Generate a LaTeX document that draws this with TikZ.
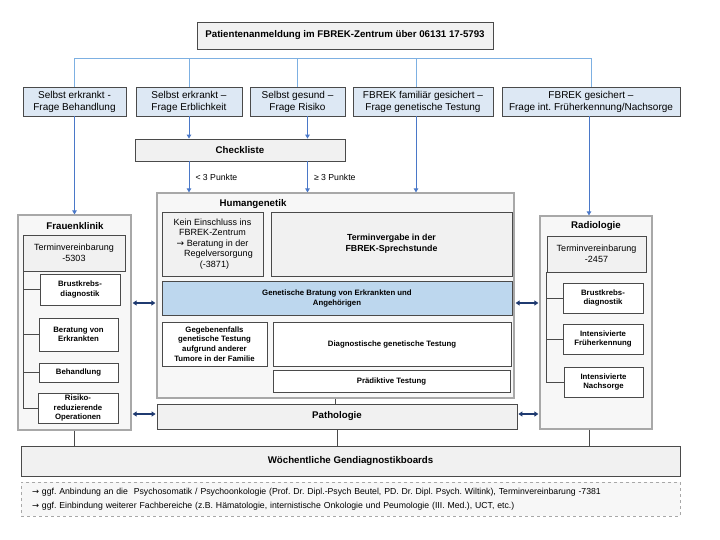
\documentclass[tikz,border=0pt]{standalone}
\usepackage{fontspec}
\setmainfont{Liberation Sans}
\newfontfamily\arrowfont{DejaVu Sans}
\newcommand\toarrow{{\arrowfont\fontsize{8.4}{10}\selectfont →}}
\frenchspacing
\usetikzlibrary{arrows.meta}

\definecolor{rowblue}{HTML}{DDE8F4}
\definecolor{busblue}{HTML}{7DB0E2}
\definecolor{flowblue}{HTML}{4A78C8}
\definecolor{navy}{HTML}{1F3A70}
\definecolor{gbblue}{HTML}{BDD7EE}
\definecolor{panel}{HTML}{F7F7F7}
\definecolor{soft}{HTML}{F1F1F1}
\definecolor{edge}{HTML}{4A4A4A}
\definecolor{frame}{HTML}{A8A8A8}

\tikzset{
  box/.style={draw=edge, line width=.8pt, inner sep=1pt, align=center},
  ask/.style={box, fill=rowblue, font=\fontsize{10}{12}\selectfont},
  grey/.style={box, fill=soft},
  sub/.style={box, fill=white, font=\fontsize{7.8}{9.6}\selectfont\bfseries},
  unit/.style={draw=frame, line width=1.2pt, fill=panel},
  head/.style={font=\fontsize{9.7}{11}\selectfont\bfseries},
  term/.style={grey, font=\fontsize{9}{10.8}\selectfont},
  bus/.style={draw=busblue, line width=1pt},
  flow/.style={draw=flowblue, line width=1pt, -{Triangle[length=4pt,width=4.5pt]}},
  dbl/.style={draw=navy, line width=1.2pt, {Triangle[length=4pt,width=5pt]}-{Triangle[length=4pt,width=5pt]}, shorten <=1pt, shorten >=1pt},
  tick/.style={draw=edge, line width=.6pt},
  lbl/.style={font=\fontsize{8.7}{10}\selectfont, inner xsep=6pt, inner ysep=2pt}
}

\begin{document}
\begin{tikzpicture}[x=1pt,y=-1pt]
    \useasboundingbox (0,0) rectangle (720,540);

    %Anmeldung and questions:
    \node[grey, head, minimum width=296pt, minimum height=27pt] (top) at (345,35.5) {Patientenanmeldung im FBREK-Zentrum über 06131 17-5793};
    \node[ask, minimum width=103pt, minimum height=29pt] (b1) at (74.5,101.5) {Selbst erkrankt -\\Frage Behandlung};
    \node[ask, minimum width=106pt, minimum height=29pt] (b2) at (189,101.5) {Selbst erkrankt –\\Frage Erblichkeit};
    \node[ask, minimum width=95pt, minimum height=29pt] (b3) at (297.5,101.5) {Selbst gesund –\\Frage Risiko};
    \node[ask, minimum width=140pt, minimum height=29pt] (b4) at (423,101.5) {FBREK familiär gesichert –\\Frage genetische Testung};
    \node[ask, minimum width=178pt, minimum height=29pt] (b5) at (591,101.5) {FBREK gesichert –\\Frage int. Früherkennung/Nachsorge};
    \node[grey, head, minimum width=210pt, minimum height=22pt] (check) at (240,150) {Checkliste};

    %Frauenklinik:
    \node[unit, minimum width=113pt, minimum height=215pt] (fk) at (74.5,322.5) {};
    \node[head] (fktitle) at (75,226) {Frauenklinik};
    \node[term, minimum width=102pt, minimum height=36pt] (fkterm) at (74,253) {Terminvereinbarung\\-5303};
    \node[sub, minimum width=80pt, minimum height=31pt] (fkbrust) at (80,289.5) {Brustkrebs-\\diagnostik};
    \node[sub, minimum width=79pt, minimum height=33pt] (fkber) at (78.5,334.5) {Beratung von\\Erkrankten};
    \node[sub, minimum width=79pt, minimum height=19pt] (fkbeh) at (78.5,372.5) {Behandlung};
    \node[sub, minimum width=80pt, minimum height=30pt] (fkops) at (78,408) {Risiko-\\reduzierende\\Operationen};
    \draw[tick] ([xshift=1pt]fkterm.south west) |- (fkops.west);
    \foreach \n in {fkbrust,fkber,fkbeh}
        \draw[tick] (\n.west) -- ([xshift=1pt]\n.west -| fkterm.west);

    %Humangenetik:
    \node[unit, minimum width=357pt, minimum height=205pt] (hg) at (335.5,295.5) {};
    \node[head] (hgtitle) at (253,204) {Humangenetik};
    \node[grey, font=\fontsize{9}{10.5}\selectfont, minimum width=101pt, minimum height=64pt] (kein) at (212.5,244) {Kein Einschluss ins\\FBREK-Zentrum\\{\arrowfont\fontsize{9}{10}\selectfont →} Beratung in der\\\hspace*{12pt}Regelversorgung\\\hspace*{4pt}(-3871)};
    \node[grey, font=\fontsize{8.8}{11}\selectfont\bfseries, minimum width=241pt, minimum height=64pt] (tv) at (391.5,244) {Terminvergabe in der\\FBREK-Sprechstunde};
    \node[box, fill=gbblue, font=\fontsize{7.8}{10}\selectfont\bfseries, minimum width=350pt, minimum height=34pt] (gb) at (337,298) {Genetische Bratung von Erkrankten und\\Angehörigen};
    \node[sub, minimum width=105pt, minimum height=44pt] (ggf) at (214.5,344) {Gegebenenfalls\\genetische Testung\\aufgrund anderer\\Tumore in der Familie};
    \node[sub, minimum width=238pt, minimum height=44pt] (diag) at (392,344) {Diagnostische genetische Testung};
    \node[sub, minimum width=237pt, minimum height=22pt] (praed) at (391.5,381) {Prädiktive Testung};
    \node[grey, head, minimum width=360pt, minimum height=25pt] (path) at (337,416.5) {Pathologie};

    %Radiologie:
    \node[unit, minimum width=112pt, minimum height=213pt] (rad) at (596,322.5) {};
    \node[head] (radtitle) at (596,226) {Radiologie};
    \node[term, minimum width=99pt, minimum height=36pt] (radterm) at (596.5,254) {Terminvereinbarung\\-2457};
    \node[sub, minimum width=80pt, minimum height=30pt] (radbrust) at (603,298) {Brustkrebs-\\diagnostik};
    \node[sub, minimum width=80pt, minimum height=30pt] (radfrueh) at (603,339) {Intensivierte\\Früherkennung};
    \node[sub, minimum width=79pt, minimum height=30pt] (radnach) at (603.5,382) {Intensivierte\\Nachsorge};
    \draw[tick] (radterm.south west) |- (radnach.west);
    \foreach \n in {radbrust,radfrueh}
        \draw[tick] (\n.west) -- (\n.west -| radterm.west);

    %Boards and notes:
    \node[grey, head, minimum width=659pt, minimum height=30pt] (wb) at (350.5,461) {Wöchentliche Gendiagnostikboards};
    \node[draw=frame, dashed, line width=.8pt, fill=panel, align=left, text width=637pt, inner xsep=11pt, minimum height=34pt, font=\fontsize{8.7}{13.5}\selectfont] (notes) at (350.5,499) {\toarrow\ ggf. Anbindung an die \ Psychosomatik / Psychoonkologie (Prof. Dr. Dipl.-Psych Beutel, PD. Dr. Dipl. Psych. Wiltink), Terminvereinbarung -7381\\\toarrow\ ggf. Einbindung weiterer Fachbereiche (z.B. Hämatologie, internistische Onkologie und Peumologie (III. Med.), UCT, etc.)};

    %draw bus:
    \coordinate (busline) at (0,59);
    \draw[bus] (b1.north) -- (b1.north |- busline) -- (b5.north |- busline) -- (b5.north);
    \draw[bus] (b2.north) -- (b2.north |- busline);
    \draw[bus] (b3.north) -- (b3.north |- busline);
    \draw[bus] ([xshift=-7pt]b4.north) -- ([xshift=-7pt]b4.north |- busline);

    %draw arrows:
    \draw[flow] (b1.south) -- (b1.south |- fk.north);
    \draw[flow] (b2.south) -- (b2.south |- check.north);
    \draw[flow] ([xshift=10pt]b3.south) -- ([xshift=10pt]b3.south |- check.north);
    \draw[flow] (b2.south |- check.south) -- (b2.south |- hg.north) node[lbl, midway, right] {< 3 Punkte};
    \draw[flow] ([xshift=10pt]b3.south |- check.south) -- ([xshift=10pt]b3.south |- hg.north) node[lbl, midway, right] {≥ 3 Punkte};
    \draw[flow] ([xshift=-7pt]b4.south) -- ([xshift=-7pt]b4.south |- hg.north);
    \draw[flow] ([xshift=-2pt]b5.south) -- ([xshift=-2pt]b5.south |- rad.north);

    \coordinate (rowa) at (0,303);
    \coordinate (rowb) at (0,414);
    \draw[dbl] (fk.east |- rowa) -- (hg.west |- rowa);
    \draw[dbl] (fk.east |- rowb) -- (path.west |- rowb);
    \draw[dbl] (hg.east |- rowa) -- (rad.west |- rowa);
    \draw[dbl] (path.east |- rowb) -- (rad.west |- rowb);

    %draw links to boards:
    \draw[tick] (fk.south) -- (fk.south |- wb.north);
    \draw[tick] (hg.south) -- (hg.south |- path.north);
    \draw[tick] (path.south) -- (path.south |- wb.north);
    \draw[tick] ([xshift=-7pt]rad.south) -- ([xshift=-7pt]rad.south |- wb.north);

\end{tikzpicture}
\end{document}
